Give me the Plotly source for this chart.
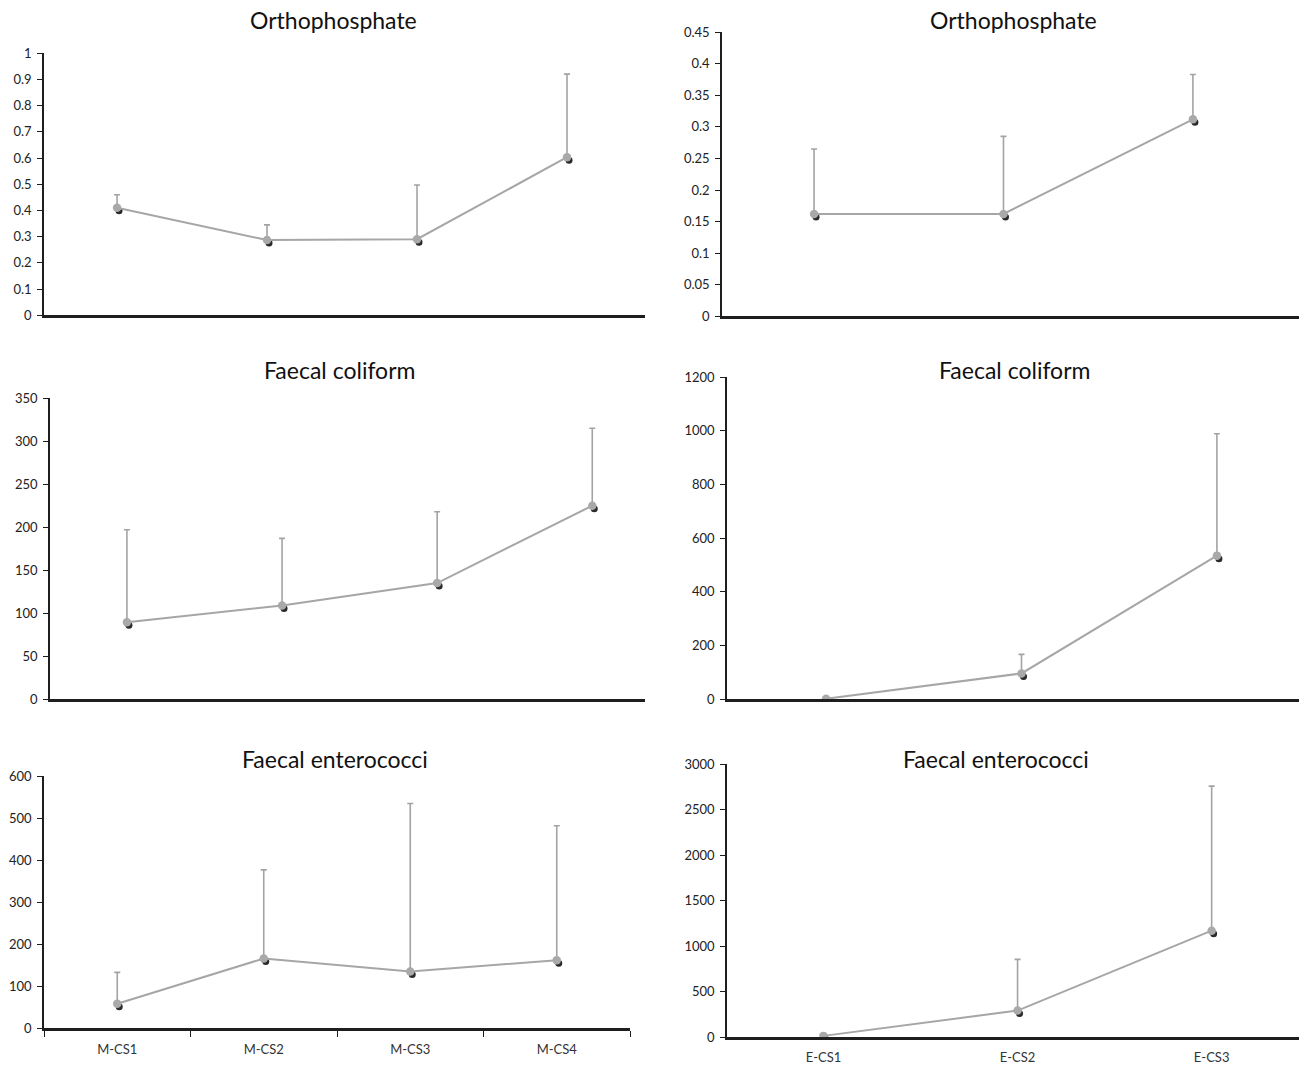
import plotly.graph_objects as go

W, H = 1299, 1068

# Sites
m_sites = ["M-CS1", "M-CS2", "M-CS3", "M-CS4"]
e_sites = ["E-CS1", "E-CS2", "E-CS3"]

# Mean values and upper error bounds per parameter
m_ortho_mean = [0.41, 0.287, 0.29, 0.603]
m_ortho_top = [0.46, 0.345, 0.497, 0.92]
e_ortho_mean = [0.162, 0.162, 0.312]
e_ortho_top = [0.265, 0.285, 0.383]

m_coli_mean = [89.5, 109, 135, 225]
m_coli_top = [197, 187, 218, 315]
e_coli_mean = [2, 96, 535]
e_coli_top = [4, 167, 989]

m_ent_mean = [58, 166, 135, 162]
m_ent_top = [133, 377, 535, 482]
e_ent_mean = [15, 293, 1171]
e_ent_top = [30, 856, 2759]

titles = ["Orthophosphate", "Faecal coliform", "Faecal enterococci"]

LINE_C = "#a6a6a6"
ERR_C = "#a3a3a3"
DOT_C = "#a9a9a9"
SHADOW_C = "#2b2b2b"
AXIS_C = "#1e1e1e"
FONT = "Lato"

# panel layout: (sites, mean, top, x px span, y px (zero, top value), y range, dtick, x range, show labels, label standoff)
panels = [
    (m_sites, m_ortho_mean, m_ortho_top, (44, 645), (311.9, 45.9), [0, 1], 0.1, [-0.487, 3.52], False, 0),
    (e_sites, e_ortho_mean, e_ortho_top, (722, 1299), (312.9, 24.6), [0, 0.45], 0.05, [-0.486, 2.56], False, 0),
    (m_sites, m_coli_mean, m_coli_top, (50, 645), (701.7, 396.1), [0, 350], 50, [-0.496, 3.34], False, 0),
    (e_sites, e_coli_mean, e_coli_top, (727, 1299), (701.7, 374.8), [0, 1200], 200, [-0.507, 2.42], False, 0),
    (m_sites, m_ent_mean, m_ent_top, (44, 630), (1035.7, 779.9), [0, 600], 100, [-0.5, 3.5], True, 7),
    (e_sites, e_ent_mean, e_ent_top, (727, 1299), (1044.9, 767.7), [0, 3000], 500, [-0.497, 2.45], True, 6),
]

fig = go.Figure()
layout = {}
shapes = []

for i, (sites, mean, top, xpx, ypx, yr, dt, xr, labels, standoff) in enumerate(panels):
    n = i + 1
    xa = "x" if n == 1 else f"x{n}"
    ya = "y" if n == 1 else f"y{n}"
    plus = [t - m for t, m in zip(top, mean)]

    fig.add_trace(go.Scatter(
        x=sites, y=mean, xaxis=xa, yaxis=ya, mode="lines+markers",
        line=dict(color=LINE_C, width=2),
        marker=dict(size=8.5, color=DOT_C),
        error_y=dict(type="data", symmetric=False, array=plus,
                     arrayminus=[0] * len(mean), color=ERR_C,
                     thickness=1.6, width=3),
        showlegend=False, hoverinfo="skip",
    ))

    # dark shadow beneath each point, offset down-right
    for s, m in zip(sites, mean):
        shapes.append(dict(
            type="circle", xref=xa, yref=ya,
            xsizemode="pixel", ysizemode="pixel",
            xanchor=s, yanchor=m,
            x0=-1.5, x1=5.5, y0=-6.5, y1=0.5,
            fillcolor=SHADOW_C, line=dict(width=0), layer="below",
        ))

    x_dom = [xpx[0] / W, xpx[1] / W]
    y_dom = [1 - ypx[0] / H, 1 - ypx[1] / H]
    layout["xaxis" if n == 1 else f"xaxis{n}"] = dict(
        domain=x_dom, anchor=ya, type="category", range=xr,
        showline=True, linecolor=AXIS_C, linewidth=2.5,
        showgrid=False, zeroline=False,
        showticklabels=labels,
        ticks="outside" if (labels and n == 5) else "",
        tickson="boundaries", ticklen=6, tickcolor=AXIS_C, tickwidth=1.2,
        ticklabelstandoff=standoff,
        tickfont=dict(family=FONT, size=13, color="#333"),
        fixedrange=True,
    )
    layout["yaxis" if n == 1 else f"yaxis{n}"] = dict(
        domain=y_dom, anchor=xa, range=yr, dtick=dt, tick0=0,
        showline=True, linecolor=AXIS_C, linewidth=1.6,
        showgrid=False, zeroline=False,
        ticks="outside", ticklen=5, tickcolor=AXIS_C, tickwidth=1.2,
        ticklabelstandoff=3,
        tickfont=dict(family=FONT, size=13, color="#222"),
        fixedrange=True,
    )

annotations = []
title_y = [12.4, 367.7, 762.6]
title_x = [(333, 1013), (339, 1014), (335, 996)]
for r, t in enumerate(titles):
    for cx in title_x[r]:
        annotations.append(dict(
            text=t, x=cx / W, y=1 - title_y[r] / H, xref="paper", yref="paper",
            showarrow=False, xanchor="center", yanchor="middle",
            font=dict(family=FONT, size=23, color="#111"),
        ))

fig.update_layout(
    width=W, height=H,
    margin=dict(l=0, r=0, t=0, b=0),
    paper_bgcolor="white", plot_bgcolor="rgba(0,0,0,0)",
    shapes=shapes, annotations=annotations,
    **layout,
)

fig.write_html("out.html")
